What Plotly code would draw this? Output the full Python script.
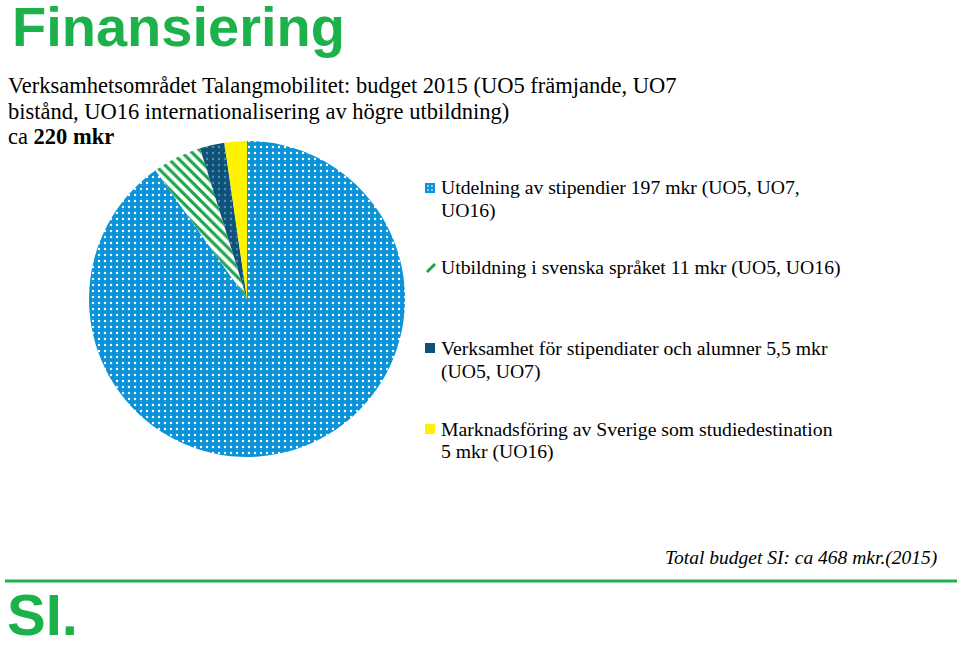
import plotly.graph_objects as go

# data
labels = [
    "Utdelning av stipendier 197 mkr (UO5, UO7,<br>UO16)",
    "Utbildning i svenska språket 11 mkr (UO5, UO16)",
    "Verksamhet för stipendiater och alumner 5,5 mkr<br>(UO5, UO7)",
    "Marknadsföring av Sverige som studiedestination<br>5 mkr (UO16)",
]
values = [197, 11, 5.5, 5]

bg_colors = ["#0A93D9", "#FFFFFF", "#0E5377", "#FFF200"]
fg_colors = ["#FFFFFF", "#1EA54C", "#4C90BC", "#FFF200"]
shapes_pat = [".", "\\", ".", ""]
legend_colors = ["#0A93D9", "#1EA54C", "#0E5377", "#FFF200"]

subtitle_lines = [
    "Verksamhetsområdet Talangmobilitet: budget 2015 (UO5 främjande, UO7",
    "bistånd, UO16 internationalisering av högre utbildning)",
    "ca <b>220 mkr</b>",
]

GREEN = "#1DB14B"
W, H = 960, 651


def paper_x(v):
    return v / W


def paper_y(v):
    return 1 - v / H


fig = go.Figure()

# pie: center ~ (247, 299), radius ~158 px
cx, cy, r = 247, 299, 158
fig.add_trace(
    go.Pie(
        labels=[l.replace("<br>", " ") for l in labels],
        values=values,
        sort=False,
        direction="clockwise",
        rotation=0,
        textinfo="none",
        hoverinfo="label+value",
        showlegend=False,
        marker=dict(
            colors=bg_colors,
            line=dict(width=0),
            pattern=dict(
                shape=shapes_pat,
                fgcolor=fg_colors,
                bgcolor=bg_colors,
                size=[6, 7, 6, 6],
                solidity=[0.12, 0.45, 0.12, 0.1],
            ),
        ),
        domain=dict(
            x=[(cx - r) / W, (cx + r) / W],
            y=[(H - cy - r) / H, (H - cy + r) / H],
        ),
    )
)

annotations = []
shapes = []

serif = "Liberation Serif"


def note(x, y, text, font, xanchor="left"):
    annotations.append(dict(
        x=paper_x(x), y=paper_y(y), xref="paper", yref="paper",
        xanchor=xanchor, yanchor="middle", text=text, showarrow=False, font=font,
    ))


# title
note(10, 26, "<b>Finansiering</b>", dict(family="Liberation Sans", size=56, color=GREEN))
# subtitle, one annotation per line for tighter spacing
for i, line in enumerate(subtitle_lines):
    note(6, 86 + 25 * i, line, dict(family=serif, size=22.5, color="black"))

# manual legend
legend_y = [188, 268, 348, 429]
for lab, col, ly in zip(labels, legend_colors, legend_y):
    if col == "#1EA54C":
        shapes.append(dict(type="line", x0=427, y0=ly + 4, x1=435, y1=ly - 4,
                           xref="x", yref="y", line=dict(color=col, width=3)))
    else:
        shapes.append(dict(type="rect", x0=425, y0=ly - 5, x1=435, y1=ly + 5,
                           xref="x", yref="y", fillcolor=col, line=dict(width=0)))
    for j, part in enumerate(lab.split("<br>")):
        note(439, ly + 23 * j, part, dict(family=serif, size=19.7, color="black"))

# white dots on the blue legend square
for dx in (428, 432):
    for dy in (186, 190):
        shapes.append(dict(type="rect", x0=dx - 0.7, y0=dy - 0.7,
                           x1=dx + 0.7, y1=dy + 0.7,
                           xref="x", yref="y", fillcolor="white", line=dict(width=0)))

# total budget note
note(939, 558, "<i>Total budget SI: ca 468 mkr.(2015)</i>",
     dict(family=serif, size=19.5, color="black"), xanchor="right")

# green rule and logo
shapes.append(dict(type="line", x0=5, y0=581, x1=957, y1=581,
                   xref="x", yref="y", line=dict(color=GREEN, width=3)))
note(5, 614, "<b>SI.</b>", dict(family="Liberation Sans", size=58, color=GREEN))

fig.update_layout(
    width=W, height=H,
    margin=dict(l=0, r=0, t=0, b=0),
    paper_bgcolor="white",
    plot_bgcolor="white",
    xaxis=dict(range=[0, W], visible=False, fixedrange=True, domain=[0, 1]),
    yaxis=dict(range=[H, 0], visible=False, fixedrange=True, domain=[0, 1]),
    shapes=shapes,
    annotations=annotations,
    showlegend=False,
)

# drop the browser's default 8px body margin so the figure sits at 0,0
fig.write_html("out.html", config={"displayModeBar": False},
               post_script="document.body.style.margin='0px';")
